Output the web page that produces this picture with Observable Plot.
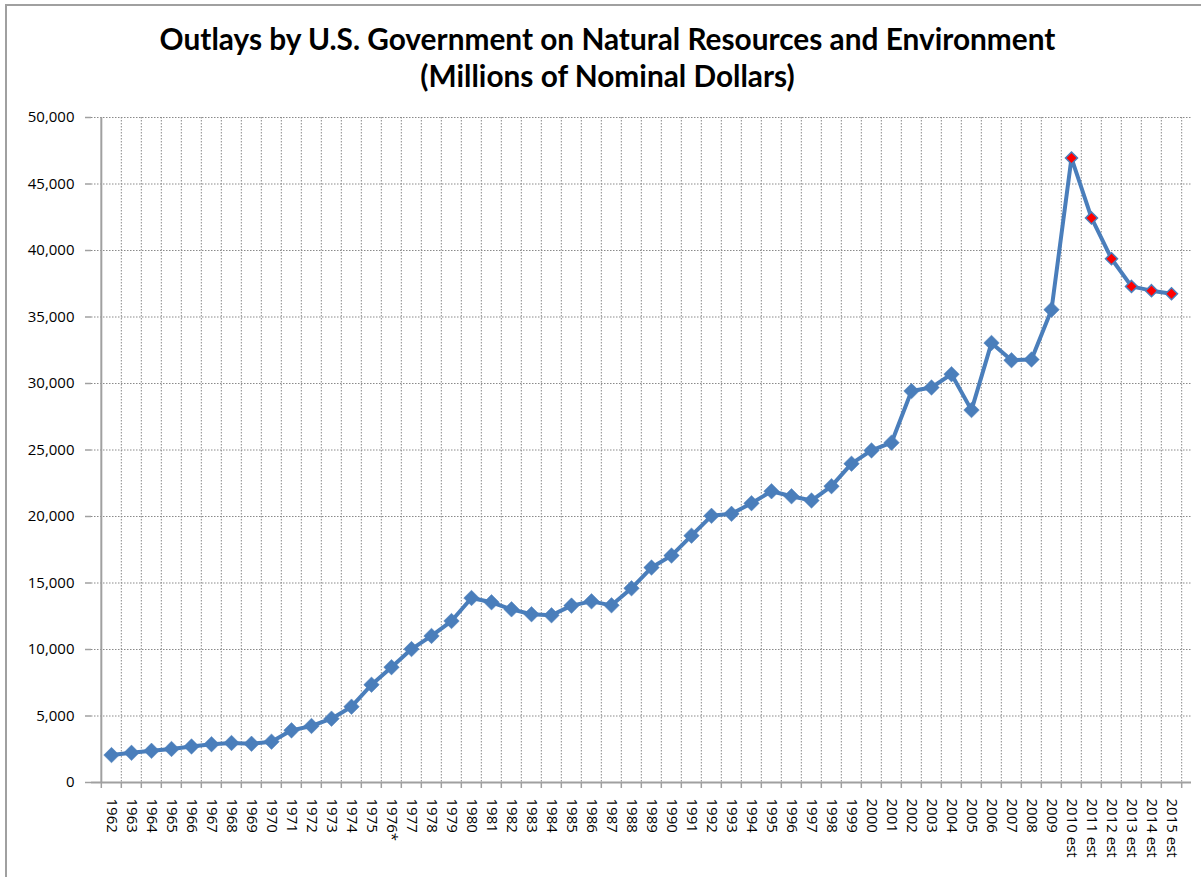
<!DOCTYPE html>
<html>
<head>
<meta charset="utf-8">
<script src="https://cdn.jsdelivr.net/npm/d3@7"></script>
<script src="https://cdn.jsdelivr.net/npm/@observablehq/plot@0.6"></script>
<style>
  html, body { margin: 0; padding: 0; background: #fff; }
  #wrap { position: relative; width: 1201px; height: 877px; overflow: hidden; background: #fff; }
  #border { position: absolute; left: 5px; top: 4px; width: 1210px; height: 890px; border: 2px solid #a0a0a0; box-sizing: border-box; }
  #title { position: relative; height: 100px; box-sizing: border-box; padding-top: 20px; padding-left: 14px;
           text-align: center; font-family: Lato, "Open Sans", sans-serif; font-weight: 700; font-size: 29.8px; line-height: 37px; color: #000; }
  #chart { position: relative; }
</style>
</head>
<body>
<div id="wrap">
  <div id="border"></div>
  <div id="title">Outlays by U.S. Government on Natural Resources and Environment<br>(Millions of Nominal Dollars)</div>
  <div id="chart"></div>
</div>
<script>
const categories = [
  "1962","1963","1964","1965","1966","1967","1968","1969","1970","1971","1972","1973","1974","1975","1976*",
  "1977","1978","1979","1980","1981","1982","1983","1984","1985","1986","1987","1988","1989","1990","1991",
  "1992","1993","1994","1995","1996","1997","1998","1999","2000","2001","2002","2003","2004","2005","2006",
  "2007","2008","2009","2010 est","2011 est","2012 est","2013 est","2014 est","2015 est"
];
const outlays = [
  2060, 2230, 2380, 2520, 2710, 2880, 2970, 2910, 3070, 3920, 4250, 4800, 5700, 7350, 8670,
  10030, 11020, 12140, 13870, 13550, 13020, 12650, 12570, 13300, 13620, 13320, 14600, 16160, 17060, 18560,
  20050, 20200, 21000, 21900, 21520, 21200, 22280, 23970, 24970, 25550, 29430, 29700, 30700, 28000, 33050,
  31750, 31800, 35550, 46950, 42450, 39380, 37300, 36980, 36750
];
const estimated = categories.map(c => c.includes("est"));
const yTicks = [0, 5000, 10000, 15000, 20000, 25000, 30000, 35000, 40000, 45000, 50000];

const data = categories.map((c, i) => ({label: c, value: outlays[i], est: estimated[i]}));

const width = 1201, height = 777;
const mL = 91, mR = 10, mT = 17, mB = 95;
const bw = (width - mL - mR) / categories.length;
const plotH = height - mT - mB;
const gridColor = "#8a8a8a";
const axisColor = "#a0a0a0";
const blue = "#4a7ebb";
const font = "'Open Sans', sans-serif";

const chart = Plot.plot({
  width, height,
  marginLeft: mL, marginRight: mR, marginTop: mT, marginBottom: mB,
  style: {fontFamily: font, fontSize: "15px", color: "#000", background: "transparent"},
  x: {type: "band", domain: categories, padding: 0, label: null},
  y: {domain: [0, 50000], label: null},
  marks: [
    Plot.gridY(yTicks, {stroke: gridColor, strokeOpacity: 1, strokeWidth: 1, strokeDasharray: "1.5,1.5"}),
    Plot.ruleX(categories.slice(1), {x: d => d, dx: -bw / 2, stroke: gridColor, strokeWidth: 1, strokeDasharray: "1.5,1.5"}),
    Plot.ruleX(categories.slice(-1), {x: d => d, dx: bw / 2, stroke: gridColor, strokeWidth: 1, strokeDasharray: "1.5,1.5"}),
    Plot.ruleX(categories, {x: d => d, dx: -bw / 2, stroke: axisColor, strokeWidth: 1.5, insetTop: plotH, insetBottom: -6}),
    Plot.ruleX(categories.slice(-1), {x: d => d, dx: bw / 2, stroke: axisColor, strokeWidth: 1.5, insetTop: plotH, insetBottom: -6}),
    Plot.ruleY([0], {stroke: axisColor, strokeWidth: 2}),
    Plot.ruleX(categories.slice(0, 1), {x: d => d, dx: -bw / 2, stroke: axisColor, strokeWidth: 2}),
    Plot.axisY(yTicks, {tickFormat: d3.format(","), tickSize: 6, tickPadding: 11, stroke: axisColor, strokeWidth: 1.5, strokeOpacity: 1, fill: "#000", fontSize: 15, fontFamily: font, label: null}),
    Plot.axisX({tickRotate: 90, tickSize: 0, tickPadding: 16, fill: "#000", fontSize: 15, fontFamily: font, label: null}),
    Plot.line(data, {x: "label", y: "value", stroke: blue, strokeWidth: 4, strokeLinejoin: "round"}),
    Plot.dot(data.filter(d => !d.est), {x: "label", y: "value", symbol: "diamond2", r: 7, fill: blue, stroke: blue, strokeWidth: 0.5}),
    Plot.dot(data.filter(d => d.est), {x: "label", y: "value", symbol: "diamond2", r: 5.4, fill: "#ff0000", stroke: blue, strokeWidth: 1.5})
  ]
});
document.getElementById("chart").appendChild(chart);
</script>
</body>
</html>
